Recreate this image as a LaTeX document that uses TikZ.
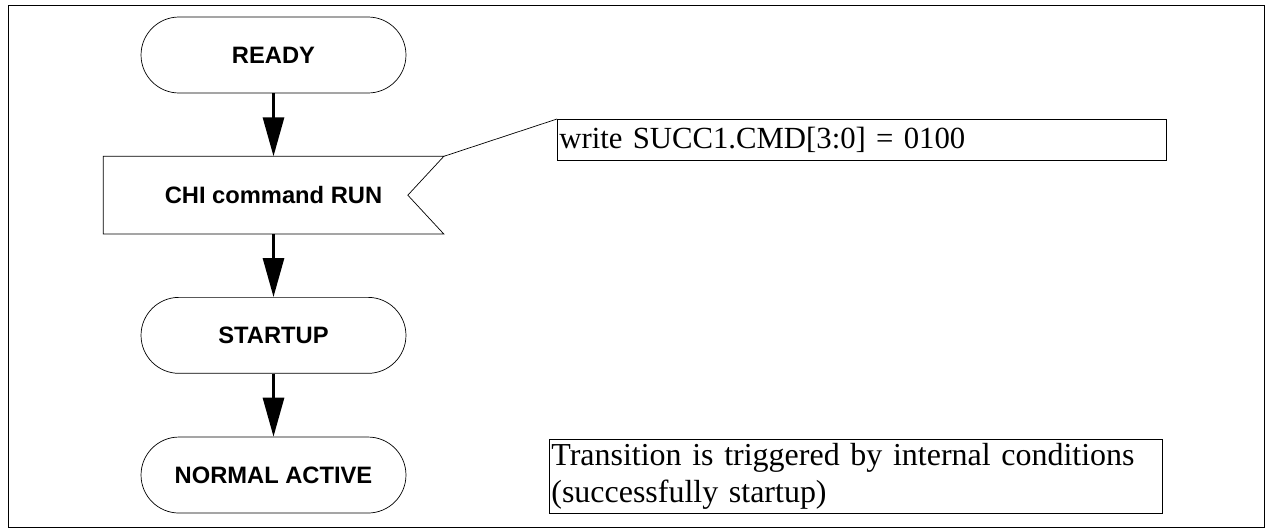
\documentclass[tikz,border=0pt]{standalone}
\usepackage{fontspec}
\setmainfont{Liberation Serif}
\setsansfont{Liberation Sans}
\usetikzlibrary{arrows.meta,positioning}

\begin{document}
\begin{tikzpicture}[x=0.02cm,y=-0.02cm]

  \tikzset{state node/.style={rectangle, draw, thin, rounded corners=0.76cm,
  		minimum width=5.3cm, minimum height=1.52cm, text centered,
  		font=\sffamily\bfseries\fontsize{13.5}{16}\selectfont}, }
  \tikzset{cmd node/.style={minimum width=6.8cm, minimum height=1.54cm,
  		font=\sffamily\bfseries\fontsize{13.5}{16}\selectfont}, }
  \tikzset{note node/.style={rectangle, draw, thin, anchor=north west, align=left,
  		inner xsep=0.04cm, inner ysep=0pt,
  		font=\fontsize{17.5}{20.5}\selectfont}, }
  \tikzset{linea/.style={line width=1.7pt, -{Triangle[length=0.78cm,width=0.42cm]}}, }
  \tikzset{node distance=1.26cm}

\useasboundingbox (0,0) rectangle (1274,531);
\draw[thin] (8,5) rectangle (1264,527);

\node[state node] (ready) at (273.5,55) {READY};
\node[cmd node] (chi) [below =of ready] {CHI command RUN};
\node[state node] (startup) [below =of chi] {STARTUP};
\node[state node] (normal) [below =of startup] {NORMAL ACTIVE};

% flag shape round the command
\draw[thin] (chi.north west) -- (chi.north east) -- ([xshift=-0.72cm]chi.east)
  -- (chi.south east) -- (chi.south west) -- cycle;

\node[note node, text width=12.1cm, minimum height=0.82cm] (wr) at (557,119)
  {write SUCC1.CMD[3:0] = 0100};
\node[note node, text width=12.18cm, minimum height=1.48cm,
  font=\fontsize{18.2}{20.5}\selectfont] (tr) at (549,439)
  {Transition is triggered by internal conditions\\(successfully startup)};

\draw[thin] (chi.north east) -- (wr.north west);

\foreach \x /\y in {ready/chi,chi/startup,startup/normal}
  \path[linea] (\x) edge (\y);
%%
\end{tikzpicture}
\end{document}
